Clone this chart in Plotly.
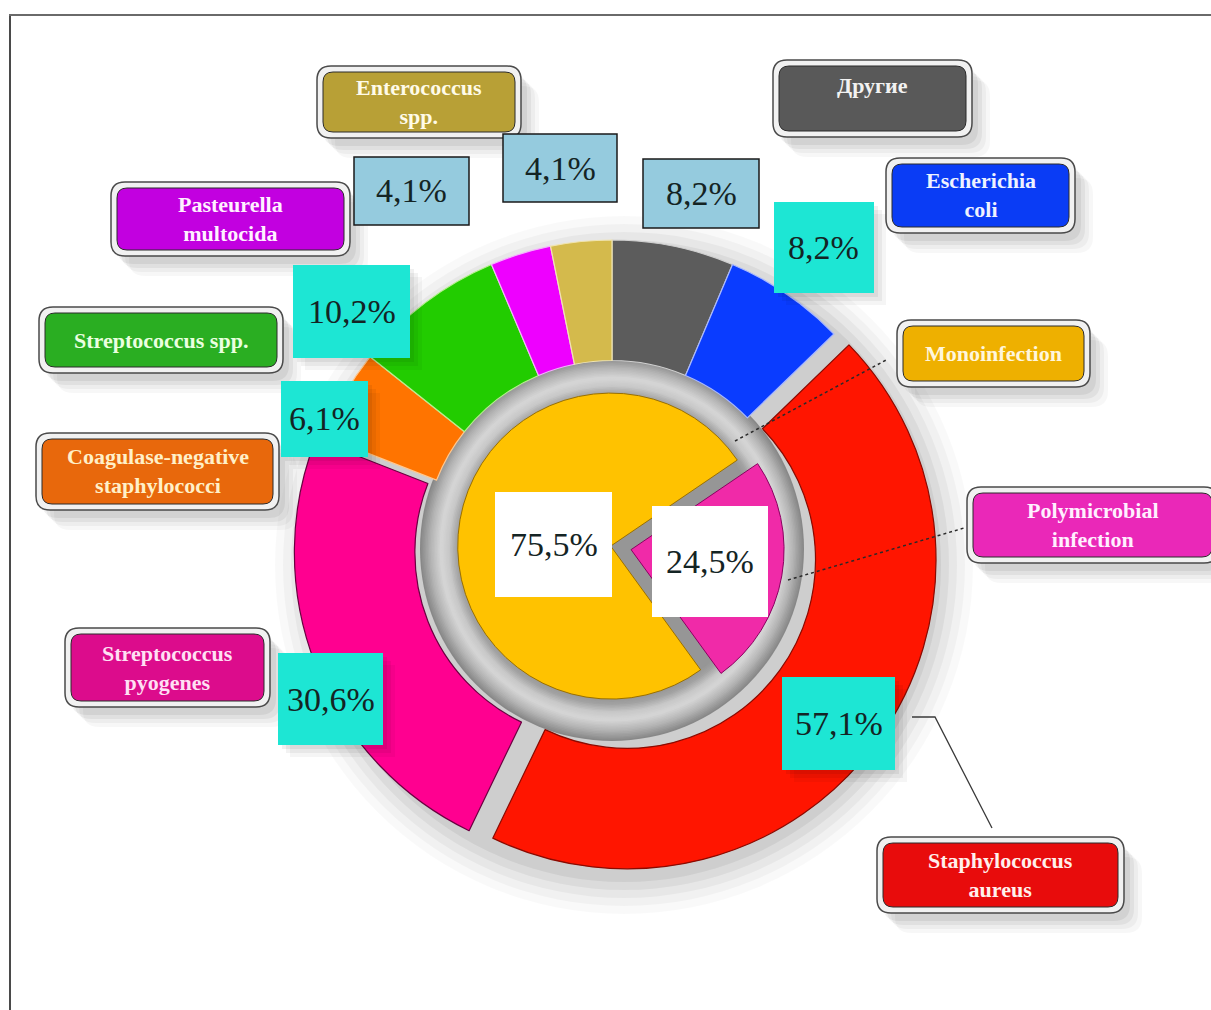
import plotly.graph_objects as go

W, H = 1211, 1010

# ---------------- data ----------------
outer_labels = ["Другие", "Escherichia coli", "Staphylococcus aureus", "Streptococcus pyogenes",
                "Coagulase-negative staphylococci", "Streptococcus spp.",
                "Pasteurella multocida", "Enterococcus spp."]
outer_values = [8.2, 8.2, 57.1, 30.6, 6.1, 10.2, 4.1, 4.1]
outer_label_text = ["Другие", "Escherichia<br>coli", "Staphylococcus<br>aureus",
                    "Streptococcus<br>pyogenes", "Coagulase-negative<br>staphylococci",
                    "Streptococcus spp.", "Pasteurella<br>multocida", "Enterococcus<br>spp."]

inner_labels = ["Monoinfection", "Polymicrobial infection"]
inner_values = [75.5, 24.5]
inner_label_text = ["Monoinfection", "Polymicrobial<br>infection"]


def fmt(v):
    return f"{v:.1f}".replace(".", ",") + "%"


# ---------------- styles / layout ----------------
outer_colors = ["#5c5c5c", "#0a3cff", "#ff1500", "#ff0090", "#ff7400", "#22cc00", "#ee00ff", "#d4ba4c"]
outer_line_colors = ["#d0d0d0", "#a8b8ff", "#8a0a00", "#6a0040", "#ffc890", "#b8f090", "#f4b0ff", "#f0e4b0"]
outer_pull = [0, 0, 0.06, 0.03, 0, 0, 0, 0]
inner_colors = ["#ffc200", "#f02aa8"]
inner_line_colors = ["#9a7000", "#8a0060"]
inner_pull = [0.035, 0.1]

CX, CY, R_OUT, HOLE = 612, 549, 309, 0.61
ICX, ICY, R_IN = 616, 547, 153


def px(x):
    return x / W


def py(y):
    return 1 - y / H


def dom(cx, cy, r, pulls):
    half = r * (1 + max(pulls))
    return dict(x=[px(cx - half), px(cx + half)], y=[py(cy + half), py(cy - half)])


def rrect(x0, y0, x1, y1, r):
    return (f"M {px(x0 + r)},{py(y0)} L {px(x1 - r)},{py(y0)} Q {px(x1)},{py(y0)} {px(x1)},{py(y0 + r)} "
            f"L {px(x1)},{py(y1 - r)} Q {px(x1)},{py(y1)} {px(x1 - r)},{py(y1)} "
            f"L {px(x0 + r)},{py(y1)} Q {px(x0)},{py(y1)} {px(x0)},{py(y1 - r)} "
            f"L {px(x0)},{py(y0 + r)} Q {px(x0)},{py(y0)} {px(x0 + r)},{py(y0)} Z")


def circle(cx, cy, r, color, opacity=1.0, layer="below"):
    return dict(type="circle", xref="paper", yref="paper", x0=px(cx - r), x1=px(cx + r),
                y0=py(cy + r), y1=py(cy - r), fillcolor=color, opacity=opacity,
                line=dict(width=0), layer=layer)


def gray_at(r):
    # radial profile of the grey gap between the ring and the inner pie
    stops = [(192, 0x88), (182, 0xb4), (172, 0xd6), (164, 0xc8), (156, 0xa2), (150, 0x96)]
    for (r0, g0), (r1, g1) in zip(stops, stops[1:]):
        if r1 <= r <= r0:
            t = (r0 - r) / (r0 - r1)
            g = round(g0 + (g1 - g0) * t)
            return f"rgb({g},{g},{g})"
    return "rgb(150,150,150)"


# label boxes: (x0, y0, x1, y1), fill colour, text colour, text centre y (None = middle)
label_style = {
    "Другие": ((773, 60, 972, 137), "#595959", "#f2f2f2", 86),
    "Escherichia coli": ((886, 158, 1075, 233), "#0a3cf5", "#eef2ff", None),
    "Staphylococcus aureus": ((877, 837, 1124, 913), "#e80c0c", "#fff0ec", None),
    "Streptococcus pyogenes": ((65, 628, 270, 707), "#dc0c8c", "#ffe0f4", None),
    "Coagulase-negative staphylococci": ((36, 433, 279, 510), "#e8680c", "#fff0c8", None),
    "Streptococcus spp.": ((39, 307, 283, 373), "#2aae22", "#eaffe0", None),
    "Pasteurella multocida": ((111, 182, 350, 256), "#c200e0", "#fff0ff", None),
    "Enterococcus spp.": ((317, 66, 521, 138), "#b8a036", "#fffbe8", None),
    "Monoinfection": ((897, 320, 1090, 387), "#eeb000", "#fff6dc", None),
    "Polymicrobial infection": ((967, 487, 1218, 563), "#ea28b8", "#fff0ff", None),
}

CYAN, LBLUE, WHITE = "#1de6d4", "#95cbde", "#ffffff"
# percentage boxes: (x0, y0, x1, y1), fill, border
pct_style = {
    "Другие": ((643, 159, 759, 228), LBLUE, "#1a1a1a"),
    "Escherichia coli": ((774, 202, 874, 293), CYAN, None),
    "Staphylococcus aureus": ((782, 677, 895, 770), CYAN, None),
    "Streptococcus pyogenes": ((278, 653, 383, 745), CYAN, None),
    "Coagulase-negative staphylococci": ((281, 381, 368, 457), CYAN, None),
    "Streptococcus spp.": ((293, 265, 410, 358), CYAN, None),
    "Pasteurella multocida": ((354, 157, 469, 225), LBLUE, "#1a1a1a"),
    "Enterococcus spp.": ((503, 134, 617, 202), LBLUE, "#1a1a1a"),
    "Monoinfection": ((495, 492, 612, 597), WHITE, None),
    "Polymicrobial infection": ((652, 506, 768, 617), WHITE, None),
}

fig = go.Figure()

fig.add_trace(go.Pie(
    labels=outer_labels, values=outer_values, sort=False, direction="clockwise", rotation=0,
    hole=HOLE, pull=outer_pull, textinfo="none", hoverinfo="label+value",
    marker=dict(colors=outer_colors, line=dict(color=outer_line_colors, width=1.2)),
    domain=dom(CX, CY, R_OUT, outer_pull), showlegend=False,
))
fig.add_trace(go.Pie(
    labels=inner_labels, values=inner_values, sort=False, direction="clockwise", rotation=144,
    pull=inner_pull, textinfo="none", hoverinfo="label+value",
    marker=dict(colors=inner_colors, line=dict(color=inner_line_colors, width=1)),
    domain=dom(ICX, ICY, R_IN, inner_pull), showlegend=False,
))

shapes = []
# frame
shapes.append(dict(type="line", xref="paper", yref="paper", x0=px(10), x1=px(10), y0=py(16), y1=py(1012),
                   line=dict(color="#4a4a4a", width=2), layer="below"))
shapes.append(dict(type="line", xref="paper", yref="paper", x0=px(9), x1=px(1213), y0=py(15), y1=py(15),
                   line=dict(color="#6a6a6a", width=2), layer="below"))
# soft shadow around ring (offset to lower right)
for r, op in [(R_OUT + 40, 0.025), (R_OUT + 32, 0.03), (R_OUT + 24, 0.04), (R_OUT + 16, 0.05), (R_OUT + 8, 0.06)]:
    shapes.append(circle(CX + 12, CY + 16, r, "#000000", op))
# hole gradient (smooth radial profile)
r = 192.0
while r >= 150:
    shapes.append(circle(CX, CY, r, gray_at(r)))
    r -= 1.5

annotations = []

all_keys = outer_labels + inner_labels
all_vals = outer_values + inner_values
all_text = outer_label_text + inner_label_text

for key, txt in zip(all_keys, all_text):
    (x0, y0, x1, y1), fill, tcol, ty = label_style[key]
    for off, op in [(18, 0.03), (14, 0.04), (10, 0.05), (6, 0.06)]:
        shapes.append(dict(type="path", xref="paper", yref="paper",
                           path=rrect(x0 + off, y0 + off + 2, x1 + off, y1 + off + 2, 16),
                           fillcolor="#000000", opacity=op, line=dict(width=0), layer="below"))
    shapes.append(dict(type="path", xref="paper", yref="paper", path=rrect(x0, y0, x1, y1, 14),
                       fillcolor="#f1f1f1", line=dict(color="#4a4a4a", width=1.5), layer="above"))
    shapes.append(dict(type="path", xref="paper", yref="paper", path=rrect(x0 + 6, y0 + 6, x1 - 6, y1 - 6, 10),
                       fillcolor=fill, line=dict(color="#2a2a2a", width=1), layer="above"))
    cy = ty if ty is not None else (y0 + y1) / 2
    annotations.append(dict(xref="paper", yref="paper", x=px((x0 + x1) / 2), y=py(cy), text=txt,
                            showarrow=False, xanchor="center", yanchor="middle",
                            font=dict(family="Liberation Serif", size=22, color=tcol, weight="bold")))

for key, v in zip(all_keys, all_vals):
    (x0, y0, x1, y1), fill, border = pct_style[key]
    if fill == CYAN:
        for off, op in [(12, 0.04), (8, 0.05), (4, 0.06)]:
            shapes.append(dict(type="rect", xref="paper", yref="paper", x0=px(x0 + off), x1=px(x1 + off),
                               y0=py(y1 + off), y1=py(y0 + off), fillcolor="#000000", opacity=op,
                               line=dict(width=0), layer="above"))
    shapes.append(dict(type="rect", xref="paper", yref="paper", x0=px(x0), x1=px(x1), y0=py(y1), y1=py(y0),
                       fillcolor=fill, line=dict(color=border or fill, width=1.5 if border else 0), layer="above"))
    annotations.append(dict(xref="paper", yref="paper", x=px((x0 + x1) / 2), y=py((y0 + y1) / 2), text=fmt(v),
                            showarrow=False, xanchor="center", yanchor="middle",
                            font=dict(family="Liberation Serif", size=34, color="#142424")))

# leader lines
shapes.append(dict(type="path", xref="paper", yref="paper",
                   path=f"M {px(912)},{py(717)} L {px(935)},{py(717)} L {px(992)},{py(828)}",
                   line=dict(color="#3a3a3a", width=1.3), layer="above"))
shapes.append(dict(type="line", xref="paper", yref="paper", x0=px(735), y0=py(441), x1=px(888), y1=py(359),
                   line=dict(color="#2a2a2a", width=1.5, dash="dot"), layer="above"))
shapes.append(dict(type="line", xref="paper", yref="paper", x0=px(788), y0=py(580), x1=px(964), y1=py(528),
                   line=dict(color="#2a2a2a", width=1.5, dash="dot"), layer="above"))

fig.update_layout(
    width=W, height=H, autosize=False,
    margin=dict(l=0, r=0, t=0, b=0),
    paper_bgcolor="#ffffff", plot_bgcolor="#ffffff",
    shapes=shapes, annotations=annotations, showlegend=False,
)

fig.write_html("out.html")
